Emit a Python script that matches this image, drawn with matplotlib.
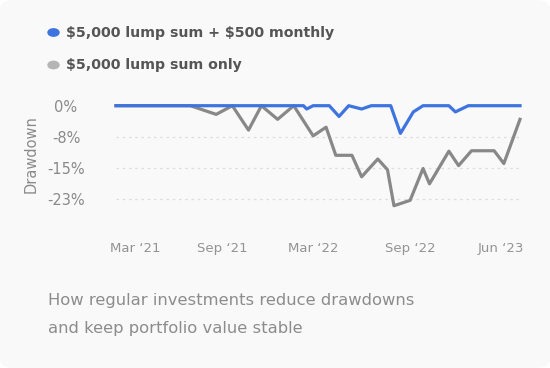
import matplotlib.pyplot as plt
from matplotlib.patches import FancyBboxPatch
from matplotlib.ticker import FuncFormatter

# week index of each turning point, drawdown in %
lump_weeks = [0, 23, 31, 36, 41, 45, 50, 55, 61, 65, 68, 73, 76, 81, 84, 86, 91, 95, 97, 103, 106, 110, 117, 120, 125]
lump_dd = [0, 0, -2.1, 0, -5.9, 0, -3.3, 0, -7.3, -5.2, -12.0, -12.0, -17.2, -12.9, -15.5, -24.2, -22.9,
           -15.2, -18.9, -11.0, -14.5, -10.9, -10.9, -14.0, -3.3]

monthly_weeks = [0, 58, 59, 61, 66, 69, 72, 76, 79, 85, 88, 92, 95, 103, 105, 109, 125]
monthly_dd = [0, 0, -0.8, 0, 0, -2.6, 0, -0.8, 0, 0, -6.7, -1.5, 0, 0, -1.5, 0, 0]

tick_weeks = [6, 33, 61, 91, 119]
tick_labels = ["Mar \u201821", "Sep \u201821", "Mar \u201822", "Sep \u201822", "Jun \u201823"]
y_ticks = [0, -7.5, -15, -22.5]

series_names = ["$5,000 lump sum + $500 monthly", "$5,000 lump sum only"]
blue = "#3d74e0"
gray_line = "#888888"
gray_dot = "#b5b5b5"

W, H = 550, 368
fig = plt.figure(figsize=(W / 100, H / 100), dpi=100, facecolor="white")

card = FancyBboxPatch((0.0, 0.0), 1.0, 1.0, boxstyle="round,pad=0,rounding_size=0.025",
                      transform=fig.transFigure, facecolor="#f9f9f9", edgecolor="none", zorder=-5)
fig.patches.append(card)

ax = fig.add_axes([116 / W, 1 - 229.7 / H, (520 - 116) / W, (229.7 - 105.7) / H])
ax.set_facecolor("none")

ax.plot(lump_weeks, lump_dd, color=gray_line, lw=2.3, clip_on=False, zorder=2)
ax.plot(monthly_weeks, monthly_dd, color=blue, lw=2.3, clip_on=False, zorder=3)

ax.set_xlim(0, 125)
ax.set_ylim(-30, 0)

for v in y_ticks[1:]:
    ax.axhline(v, color="#dddddd", lw=0.9, ls=(0, (2, 3)), zorder=1)


def pct(v, pos):
    # labels are rounded to whole percent, -7.5 shows as -8
    return f"{-int(-v + 0.5)}%" if v else "0%"


ax.set_yticks(y_ticks)
ax.yaxis.set_major_formatter(FuncFormatter(pct))
ax.tick_params(axis="y", length=0, pad=36, labelsize=10.5, labelcolor="#8a8a8a")
for lab in ax.get_yticklabels():
    lab.set_ha("center")

ax.set_xticks(tick_weeks)
ax.set_xticklabels(tick_labels)
ax.tick_params(axis="x", length=0, pad=9, labelsize=9.5, labelcolor="#939393")

for s in ax.spines.values():
    s.set_visible(False)

fig.text(31 / W, 1 - 154 / H, "Drawdown", rotation=90, ha="center", va="center",
         fontsize=10.5, color="#8a8a8a")

# legend
fig.patches.append(plt.Circle((53.5 / W, 1 - 32.5 / H), 5.5 / W, transform=fig.transFigure,
                              color=blue, zorder=3))
fig.patches.append(plt.Circle((53.5 / W, 1 - 65 / H), 5.5 / W, transform=fig.transFigure,
                              color=gray_dot, zorder=3))
fig.text(66 / W, 1 - 32.5 / H, series_names[0], ha="left", va="center", fontsize=10.2,
         fontweight="bold", color="#555555", parse_math=False)
fig.text(66 / W, 1 - 65 / H, series_names[1], ha="left", va="center", fontsize=10.2,
         fontweight="bold", color="#555555", parse_math=False)

fig.text(48 / W, 1 - 300.5 / H, "How regular investments reduce drawdowns", ha="left", va="center",
         fontsize=11.8, color="#8c8c8c")
fig.text(48 / W, 1 - 329 / H, "and keep portfolio value stable", ha="left", va="center",
         fontsize=11.8, color="#8c8c8c")

fig.savefig("out.png", dpi=100, facecolor="white")
